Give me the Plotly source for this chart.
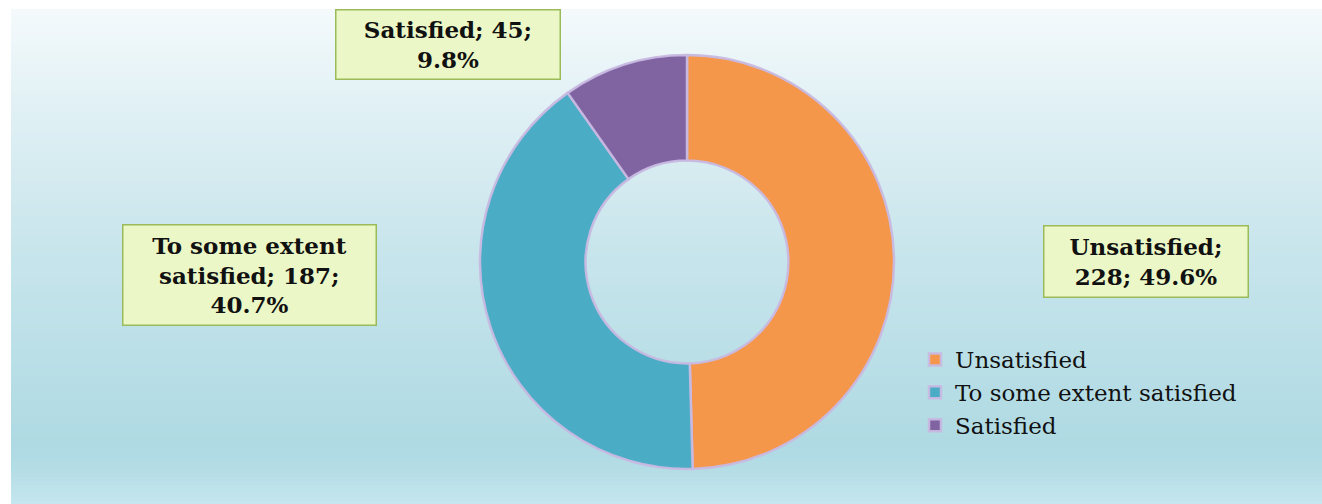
import plotly.graph_objects as go

# ---- data ----
categories = ["Unsatisfied", "To some extent satisfied", "Satisfied"]
counts = [228, 187, 45]
colors = ["#F4974A", "#4BACC6", "#8064A2"]

total = sum(counts)
percents = [100.0 * c / total for c in counts]

W, H = 1322, 504


def px(x):
    return x / W


def py(y):
    return 1 - y / H


fig = go.Figure()

cx, cy, r = 687, 262, 207
fig.add_trace(go.Pie(
    labels=categories,
    values=counts,
    sort=False,
    direction="clockwise",
    rotation=0,
    hole=0.49,
    textinfo="none",
    hoverinfo="label+value+percent",
    marker=dict(colors=colors, line=dict(color="rgba(200,185,225,0.95)", width=2.5)),
    domain=dict(x=[px(cx - r), px(cx + r)], y=[py(cy + r), py(cy - r)]),
    showlegend=True,
))

# ---- background gradient (decorative) ----
stops = [(9, (244, 250, 252)), (100, (226, 241, 245)), (250, (200, 229, 236)),
         (444, (175, 218, 227)), (470, (180, 221, 230)), (504, (198, 230, 238))]
shapes = []
step = 4
for y0 in range(9, 504, step):
    y1 = min(y0 + step, 504)
    ym = (y0 + y1) / 2
    c = stops[-1][1]
    for i in range(len(stops) - 1):
        a, ca = stops[i]
        b, cb = stops[i + 1]
        if a <= ym <= b:
            t = (ym - a) / (b - a)
            c = tuple(int(round(ca[k] + (cb[k] - ca[k]) * t)) for k in range(3))
            break
    shapes.append(dict(type="rect", xref="paper", yref="paper",
                       x0=px(11), x1=1, y0=py(y1), y1=py(y0),
                       fillcolor="rgb(%d,%d,%d)" % c, line=dict(width=0), layer="below"))

# ---- data labels as boxed annotations ----
label_texts = [
    "%s;<br>%d; %.1f%%" % (categories[0], counts[0], percents[0]),
    "To some extent<br>satisfied; %d;<br>%.1f%%" % (counts[1], percents[1]),
    "%s; %d;<br>%.1f%%" % (categories[2], counts[2], percents[2]),
]
# (center x, center y, width, height) in pixels
label_pos = [(1145.5, 261, 199, 66), (250, 274.5, 248, 95), (448, 44, 219, 64)]

annotations = []
for txt, (bx, by, bw, bh) in zip(label_texts, label_pos):
    annotations.append(dict(
        text="<b>%s</b>" % txt, x=px(bx), y=py(by), xref="paper", yref="paper",
        xanchor="center", yanchor="middle", showarrow=False,
        width=bw, height=bh, align="center", valign="middle",
        font=dict(family="DejaVu Serif", size=23, color="#111111"),
        bgcolor="#EBF7C6", bordercolor="#9BBB59", borderwidth=1.5, borderpad=2,
    ))

fig.update_layout(
    width=W, height=H,
    margin=dict(l=0, r=0, t=0, b=0),
    paper_bgcolor="white",
    plot_bgcolor="rgba(0,0,0,0)",
    shapes=shapes,
    annotations=annotations,
    legend=dict(x=px(915), y=py(338), xanchor="left", yanchor="top",
                bgcolor="rgba(0,0,0,0)",
                font=dict(family="DejaVu Serif", size=23, color="#111111"),
                itemwidth=30),
)

fig.write_html("out.html",
               config={"displayModeBar": False},
               post_script="document.body.style.margin='0';"
                           "document.documentElement.style.overflow='hidden';")
